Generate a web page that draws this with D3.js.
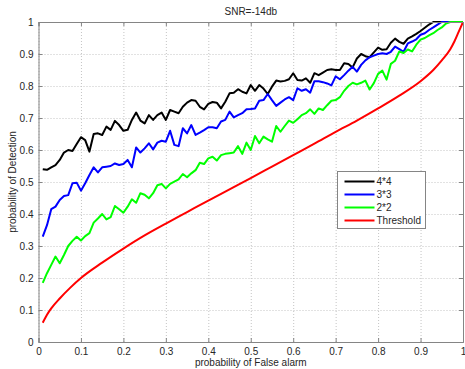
<!DOCTYPE html>
<html>
<head>
<meta charset="utf-8">
<script src="https://d3js.org/d3.v7.min.js"></script>
<style>
  body { margin: 0; background: #fff; }
  svg text { font-family: "Liberation Sans", Arial, sans-serif; fill: #262626; }
</style>
</head>
<body>
<script>
// probability of false alarm (x), 0.01 .. 1.00
const pfAlarm = [
  0.01,0.02,0.03,0.04,0.05,0.06,0.07,0.08,0.09,0.10,
  0.11,0.12,0.13,0.14,0.15,0.16,0.17,0.18,0.19,0.20,
  0.21,0.22,0.23,0.24,0.25,0.26,0.27,0.28,0.29,0.30,
  0.31,0.32,0.33,0.34,0.35,0.36,0.37,0.38,0.39,0.40,
  0.41,0.42,0.43,0.44,0.45,0.46,0.47,0.48,0.49,0.50,
  0.51,0.52,0.53,0.54,0.55,0.56,0.57,0.58,0.59,0.60,
  0.61,0.62,0.63,0.64,0.65,0.66,0.67,0.68,0.69,0.70,
  0.71,0.72,0.73,0.74,0.75,0.76,0.77,0.78,0.79,0.80,
  0.81,0.82,0.83,0.84,0.85,0.86,0.87,0.88,0.89,0.90,
  0.91,0.92,0.93,0.94,0.95,0.96,0.97,0.98,0.99,1.00
];

// probability of detection, one array per antenna setup
const pd4x4 = [
  0.540,0.538,0.546,0.553,0.569,0.592,0.600,0.597,0.619,0.640,
  0.631,0.595,0.650,0.652,0.647,0.673,0.663,0.691,0.678,0.660,
  0.663,0.694,0.717,0.692,0.683,0.709,0.694,0.709,0.717,0.694,
  0.725,0.720,0.715,0.735,0.748,0.756,0.754,0.735,0.727,0.744,
  0.750,0.748,0.730,0.751,0.777,0.779,0.790,0.782,0.777,0.803,
  0.785,0.803,0.792,0.775,0.798,0.817,0.814,0.816,0.821,0.840,
  0.819,0.817,0.824,0.810,0.840,0.834,0.842,0.850,0.852,0.850,
  0.850,0.871,0.869,0.858,0.886,0.900,0.893,0.890,0.905,0.920,
  0.913,0.915,0.935,0.948,0.938,0.932,0.948,0.955,0.963,0.972,
  0.982,0.992,1.000,1.000,1.000,1.000,1.000,1.000,1.000,1.000
];
const pd3x3 = [
  0.329,0.365,0.415,0.423,0.444,0.456,0.459,0.496,0.498,0.473,
  0.496,0.522,0.546,0.530,0.546,0.548,0.550,0.558,0.553,0.556,
  0.569,0.546,0.608,0.592,0.605,0.621,0.602,0.623,0.629,0.626,
  0.660,0.616,0.612,0.668,0.652,0.678,0.647,0.654,0.662,0.671,
  0.671,0.668,0.689,0.694,0.720,0.702,0.709,0.715,0.727,0.728,
  0.730,0.754,0.756,0.775,0.756,0.738,0.748,0.758,0.765,0.756,
  0.793,0.785,0.790,0.779,0.815,0.815,0.812,0.808,0.802,0.830,
  0.821,0.834,0.848,0.860,0.845,0.866,0.880,0.890,0.895,0.900,
  0.902,0.900,0.907,0.923,0.915,0.907,0.933,0.939,0.946,0.960,
  0.965,0.975,0.983,0.992,1.000,1.000,1.000,1.000,1.000,1.000
];
const pd2x2 = [
  0.185,0.215,0.241,0.267,0.246,0.272,0.300,0.316,0.329,0.317,
  0.331,0.340,0.373,0.386,0.400,0.383,0.390,0.425,0.415,0.404,
  0.423,0.446,0.435,0.465,0.460,0.449,0.465,0.490,0.494,0.480,
  0.494,0.501,0.508,0.525,0.515,0.527,0.537,0.560,0.556,0.574,
  0.579,0.567,0.584,0.588,0.590,0.592,0.612,0.588,0.623,0.600,
  0.644,0.621,0.642,0.633,0.626,0.675,0.657,0.675,0.692,0.685,
  0.696,0.709,0.715,0.727,0.713,0.730,0.725,0.740,0.754,0.756,
  0.765,0.785,0.800,0.810,0.805,0.810,0.817,0.789,0.809,0.838,
  0.848,0.820,0.869,0.879,0.908,0.903,0.914,0.908,0.929,0.945,
  0.950,0.958,0.965,0.975,0.983,0.995,1.000,1.000,1.000,1.000
];

// threshold curve is smooth, read at fewer points
const pfThreshold = [0.01,0.02,0.03,0.05,0.075,0.10,0.15,0.20,0.25,0.30,0.35,0.40,0.45,0.50,
  0.55,0.60,0.65,0.70,0.75,0.80,0.85,0.90,0.93,0.95,0.97,0.98,0.99,1.00];
const pdThreshold = [0.060,0.085,0.105,0.136,0.170,0.200,0.248,0.292,0.333,0.370,0.406,0.442,0.477,0.512,
  0.548,0.584,0.620,0.657,0.692,0.730,0.770,0.815,0.850,0.880,0.915,0.940,0.970,1.000];

const seriesNames = ["4*4", "3*3", "2*2", "Threshold"];
const seriesColours = ["#000000", "#0000ff", "#00ff00", "#ff0000"];
const axisTicks = [0, 0.1, 0.2, 0.3, 0.4, 0.5, 0.6, 0.7, 0.8, 0.9, 1];

const margin = {top: 22, right: 2, bottom: 27, left: 38.5};
const width = 465 - margin.left - margin.right;
const height = 369 - margin.top - margin.bottom;

const svg = d3.select("body").append("svg")
  .attr("width", 465)
  .attr("height", 369);

const canvas = svg.append("g")
  .attr("transform", "translate(" + margin.left + "," + margin.top + ")");

const x = d3.scaleLinear().domain([0, 1]).range([0, width]);
const y = d3.scaleLinear().domain([0, 1]).range([height, 0]);

// dotted grid
canvas.append("g")
  .attr("class", "grid")
  .attr("transform", "translate(0," + height + ")")
  .call(d3.axisBottom(x).tickValues(axisTicks).tickSize(-height).tickFormat(""));
canvas.append("g")
  .attr("class", "grid")
  .call(d3.axisLeft(y).tickValues(axisTicks).tickSize(-width).tickFormat(""));
canvas.selectAll(".grid .domain").remove();
canvas.selectAll(".grid line")
  .attr("stroke", "#c4c4c4")
  .attr("stroke-dasharray", "1,2");

// the curves
const line = d3.line()
  .x(function(d) { return x(d[0]); })
  .y(function(d) { return y(d[1]); });

const curves = [
  d3.zip(pfAlarm, pd4x4),
  d3.zip(pfAlarm, pd3x3),
  d3.zip(pfAlarm, pd2x2),
  d3.zip(pfThreshold, pdThreshold)
];

canvas.selectAll("path.curve")
  .data(curves)
  .enter()
  .append("path")
    .attr("class", "curve")
    .attr("fill", "none")
    .attr("stroke", function(d, i) { return seriesColours[i]; })
    .attr("stroke-width", 2)
    .attr("stroke-linejoin", "round")
    .attr("d", function(d, i) {
      return i == 3 ? line.curve(d3.curveMonotoneX)(d) : line.curve(d3.curveLinear)(d);
    });

// axes, ticks point inwards like matlab
const fmt = function(d) { return d3.format("~g")(d); };
canvas.append("g")
  .attr("class", "axis")
  .attr("transform", "translate(0," + height + ")")
  .call(d3.axisBottom(x).tickValues(axisTicks).tickSize(-4).tickPadding(6).tickFormat(fmt));
canvas.append("g")
  .attr("class", "axis")
  .call(d3.axisLeft(y).tickValues(axisTicks).tickSize(-4).tickPadding(5).tickFormat(fmt));
canvas.append("g")
  .attr("class", "axis")
  .call(d3.axisTop(x).tickValues(axisTicks).tickSize(-4).tickFormat(""));
canvas.append("g")
  .attr("class", "axis")
  .attr("transform", "translate(" + width + ",0)")
  .call(d3.axisRight(y).tickValues(axisTicks).tickSize(-4).tickFormat(""));
canvas.selectAll(".axis path, .axis line").attr("stroke", "#858585");
canvas.selectAll(".axis text").attr("font-size", 10).attr("fill", "#262626");

// titles
svg.append("text")
  .attr("x", margin.left + width / 2)
  .attr("y", 15)
  .attr("text-anchor", "middle")
  .attr("font-size", 10)
  .text("SNR=-14db");
svg.append("text")
  .attr("x", margin.left + width / 2)
  .attr("y", 366)
  .attr("text-anchor", "middle")
  .attr("font-size", 10)
  .text("probability of False alarm");
svg.append("text")
  .attr("transform", "translate(16," + (margin.top + height / 2) + ") rotate(-90)")
  .attr("text-anchor", "middle")
  .attr("font-size", 10)
  .text("probability of Detection");

// legend
const legend = svg.append("g").attr("transform", "translate(337.5,171.5)");
legend.append("rect")
  .attr("width", 88)
  .attr("height", 57)
  .attr("fill", "#fff")
  .attr("stroke", "#858585");
const item = legend.selectAll("g.item")
  .data(seriesNames)
  .enter()
  .append("g")
    .attr("class", "item")
    .attr("transform", function(d, i) { return "translate(0," + (10 + i * 13) + ")"; });
item.append("line")
  .attr("x1", 7).attr("x2", 37)
  .attr("stroke", function(d, i) { return seriesColours[i]; })
  .attr("stroke-width", 2);
item.append("text")
  .attr("x", 39)
  .attr("dy", "0.35em")
  .attr("font-size", 10)
  .text(function(d) { return d; });
</script>
</body>
</html>
